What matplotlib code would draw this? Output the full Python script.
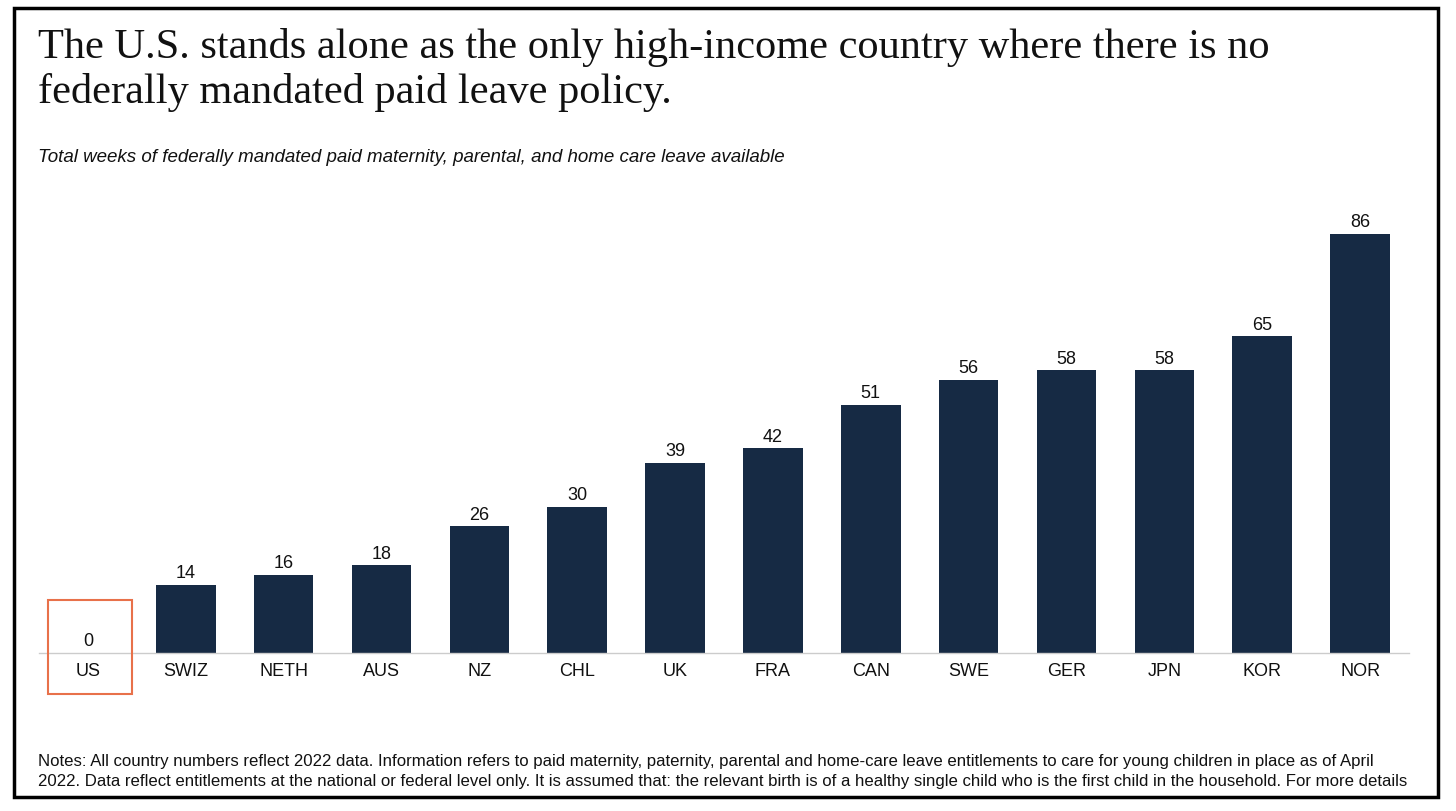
import matplotlib
matplotlib.use("Agg")
import matplotlib.pyplot as plt
from matplotlib.patches import Rectangle

countries = ["US", "SWIZ", "NETH", "AUS", "NZ", "CHL", "UK", "FRA", "CAN", "SWE", "GER", "JPN", "KOR", "NOR"]
weeks = [0, 14, 16, 18, 26, 30, 39, 42, 51, 56, 58, 58, 65, 86]

W, H = 1456, 811
fig = plt.figure(figsize=(W / 100, H / 100), dpi=100)
fig.patch.set_facecolor("white")

# outer frame
fig.add_artist(Rectangle((14 / W, (H - 797) / H), (1438 - 14) / W, (797 - 8) / H,
                         transform=fig.transFigure, fill=False, edgecolor="black", lw=2.5))

ax_left, ax_right = 39 / W, 1409 / W
base_y = (H - 653) / H
ymax = 90
px_per_unit = 419 / 86
top_px = 653 - ymax * px_per_unit
ax = fig.add_axes([ax_left, base_y, ax_right - ax_left, (653 - top_px) / H])
x = list(range(len(countries)))
ax.bar(x, weeks, width=0.61, color="#162a44")
ax.set_xlim(-0.5, len(countries) - 0.5)
ax.set_ylim(0, ymax)
for s in ["top", "right", "left"]:
    ax.spines[s].set_visible(False)
ax.spines["bottom"].set_color("#cccccc")
ax.spines["bottom"].set_linewidth(1)
ax.set_yticks([])
ax.set_xticks(x)
ax.set_xticklabels(countries, fontsize=13, fontfamily="Liberation Sans", color="#111111")
ax.tick_params(axis="x", length=0, pad=7)
for xi, v in zip(x, weeks):
    ax.annotate(str(v), (xi, v), xytext=(0, 2), textcoords="offset points",
                ha="center", va="bottom", fontsize=13, fontfamily="Liberation Sans", color="#111111")

# highlight box around US
fig.add_artist(Rectangle((48 / W, (H - 694) / H), (132 - 48) / W, (694 - 600) / H,
                         transform=fig.transFigure, fill=False, edgecolor="#e8714a", lw=1.5))

fig.text(38 / W, (H - 58) / H,
         "The U.S. stands alone as the only high-income country where there is no",
         fontsize=30.5, fontfamily="Liberation Serif", color="#111111", va="baseline")
fig.text(38 / W, (H - 103) / H,
         "federally mandated paid leave policy.",
         fontsize=30.5, fontfamily="Liberation Serif", color="#111111", va="baseline")
fig.text(38 / W, (H - 162) / H,
         "Total weeks of federally mandated paid maternity, parental, and home care leave available",
         fontsize=13.5, fontstyle="italic", fontfamily="Liberation Sans", color="#111111", va="baseline")
fig.text(38 / W, (H - 766) / H,
         "Notes: All country numbers reflect 2022 data. Information refers to paid maternity, paternity, parental and home-care leave entitlements to care for young children in place as of April",
         fontsize=12.1, fontfamily="Liberation Sans", color="#111111", va="baseline")
fig.text(38 / W, (H - 786) / H,
         "2022. Data reflect entitlements at the national or federal level only. It is assumed that: the relevant birth is of a healthy single child who is the first child in the household. For more details",
         fontsize=12.1, fontfamily="Liberation Sans", color="#111111", va="baseline")

fig.savefig("out.png", dpi=100)
